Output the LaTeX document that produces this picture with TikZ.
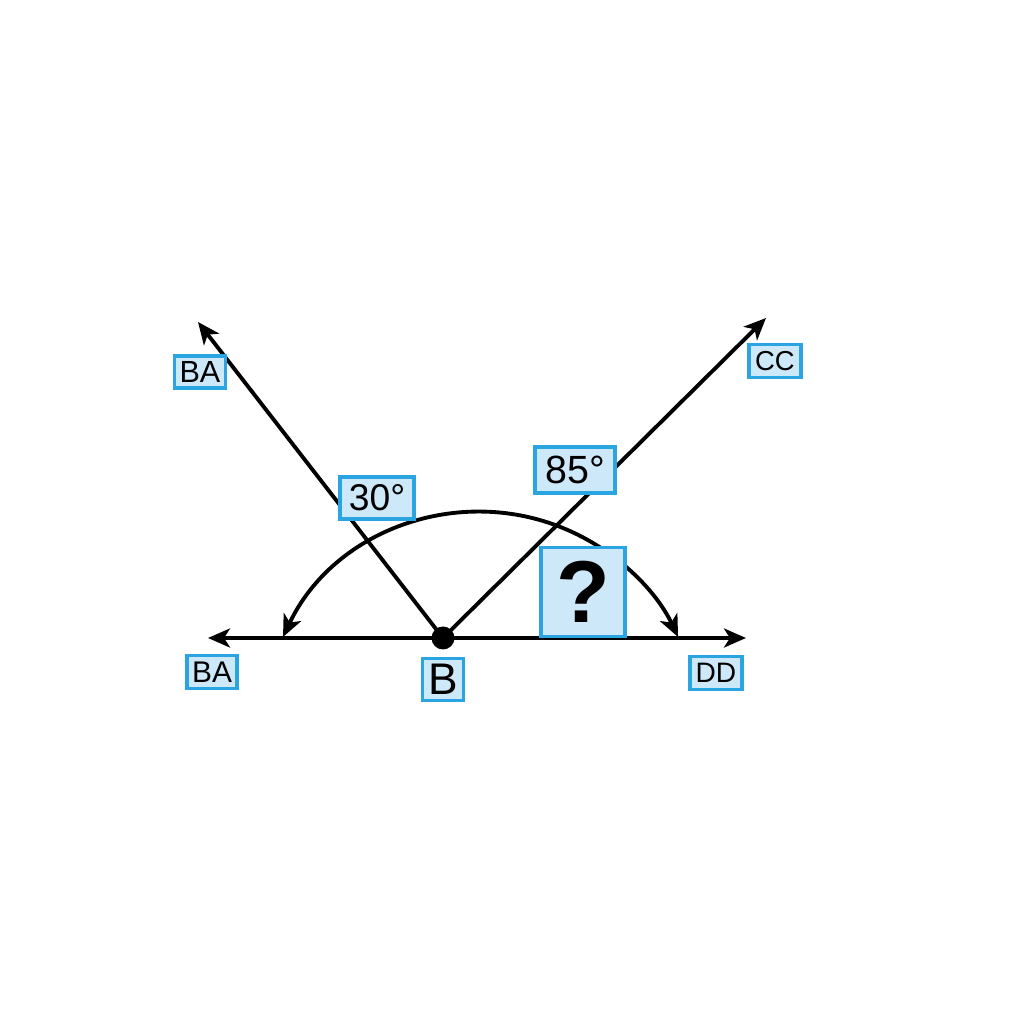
\documentclass[tikz,border=0pt]{standalone}
\usepackage{fontspec}
\setmainfont{Liberation Sans}
\usetikzlibrary{arrows.meta,positioning}
\pgfdeclarelayer{bg}
\pgfsetlayers{bg,main}
\definecolor{boxfill}{HTML}{CDE8F8}
\definecolor{boxline}{HTML}{2BA5E2}
\tikzset{
  tip/.tip={Stealth[length=0.22cm, width=0.19cm, inset=0.06cm]},
  lbl/.style={draw=boxline, fill=boxfill, line width=0.9pt, inner sep=0pt, text=black},
  ray/.style={line width=1.1pt, -tip},
  fs/.style={font=\fontsize{#1}{#1}\selectfont}
}

\begin{document}
\begin{tikzpicture}
    \useasboundingbox (0,0) rectangle (10.24,10.24);

    \coordinate (B)    at (4.43,3.86);
    \coordinate (endL) at (2.08,3.86);
    \coordinate (endR) at (7.46,3.86);
    \coordinate (endA) at (1.98,7.02);
    \coordinate (endC) at (7.66,7.06);
    \coordinate (arcL) at (2.83,3.87);

    \begin{pgfonlayer}{bg}
        \draw[ray] (B) -- (endL);
        \draw[ray] (B) -- (endR);
        \draw[ray] (B) -- (endA);
        \draw[ray] (B) -- (endC);
        \draw[ray, tip-tip] (arcL) arc[start angle=154.7, end angle=25.3, radius=2.185];
    \end{pgfonlayer}

    \fill (B) circle (0.115);

    \node[lbl, fs=8.7, minimum width=0.51cm, minimum height=0.32cm] (lbA1) at (2.00,6.52) {BA};
    \node[lbl, fs=7.8, minimum width=0.52cm, minimum height=0.33cm] (lbC)  at (7.75,6.63) {CC};
    \node[lbl, fs=10.6, minimum width=0.74cm, minimum height=0.42cm] (ang30) at (3.77,5.26) {30°};
    \node[lbl, fs=11.2, minimum width=0.80cm, minimum height=0.46cm] (ang85) at (5.75,5.54) {85°};
    \node[lbl, fs=25, minimum width=0.84cm, minimum height=0.89cm] (unknown) at (5.83,4.32) {\bfseries ?};
    \node[lbl, fs=8.5, minimum width=0.50cm, minimum height=0.33cm] (lbA2) at (2.12,3.52) {BA};
    \node[lbl, fs=12.6, minimum width=0.41cm, minimum height=0.42cm, below=0.19cm of B] (lbB) {B};
    \node[lbl, fs=8, minimum width=0.52cm, minimum height=0.33cm] (lbD) at (7.16,3.51) {DD};

\end{tikzpicture}
\end{document}
